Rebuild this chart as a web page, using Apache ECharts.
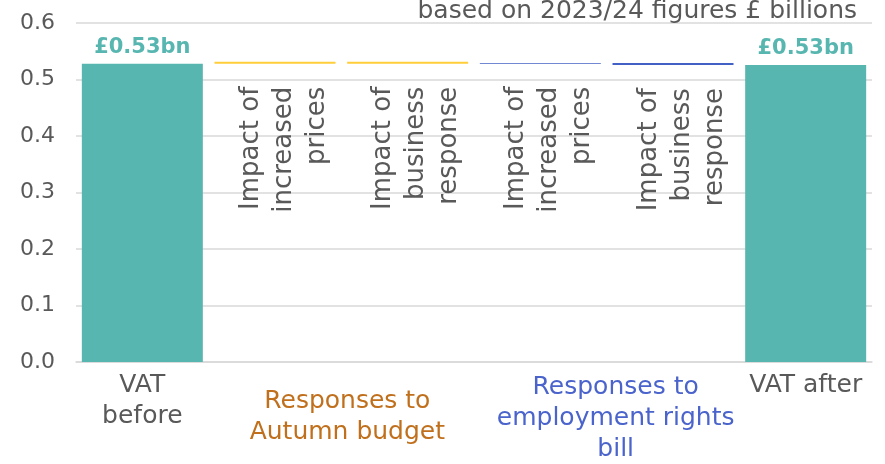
<!DOCTYPE html>
<html>
<head>
<meta charset="utf-8">
<script src="https://cdn.jsdelivr.net/npm/echarts@6/dist/echarts.min.js"></script>
<style>
  html, body { margin: 0; padding: 0; background: #ffffff; }
  #chart { width: 885px; height: 464px; }
</style>
</head>
<body>
<div id="chart"></div>
<script>
// VAT waterfall, £ billions (2023/24 basis)
const categories = ['VAT before', 'Impact of increased prices', 'Impact of business response',
                    'Impact of increased prices', 'Impact of business response', 'VAT after'];
const stepLabels = ['Impact of\nincreased\nprices', 'Impact of\nbusiness\nresponse',
                    'Impact of\nincreased\nprices', 'Impact of\nbusiness\nresponse'];
const vatBefore = 0.528;
const changes = [0.0035, -0.0035, 0.001, -0.0035];
const vatAfter = 0.5255;
const yTicks = [0, 0.1, 0.2, 0.3, 0.4, 0.5, 0.6];
const groupLabels = ['Responses to\nAutumn budget', 'Responses to\nemployment rights\nbill'];

const TEAL = '#58B6B0';
const stepColors = ['#FFCE3A', '#FFCE3A', '#4361C4', '#4361C4'];
const GREY = '#595959';
const FONT = 'DejaVu Sans';

// Build the floating (invisible) base and visible delta for each step
const baseData = [0];
const deltaData = [{ value: vatBefore, itemStyle: { color: TEAL } }];
let running = vatBefore;
changes.forEach((c, i) => {
  const next = running + c;
  baseData.push({
    value: Math.min(running, next),
    label: { show: true, formatter: stepLabels[i] }
  });
  deltaData.push({ value: Math.abs(c), itemStyle: { color: stepColors[i] } });
  running = next;
});
baseData.push(0);
deltaData.push({ value: vatAfter, itemStyle: { color: TEAL } });

const totalLabel = {
  show: true, position: 'top', distance: 6,
  fontFamily: FONT, fontWeight: 'bold', fontSize: 21, color: TEAL,
  formatter: p => '£' + p.value.toFixed(2) + 'bn'
};
deltaData[0].label = totalLabel;
deltaData[5].label = totalLabel;

const chart = echarts.init(document.getElementById('chart'), null, { renderer: 'canvas' });

const option = {
  animation: false,
  backgroundColor: '#ffffff',
  grid: { left: 76, right: 13, top: 23, bottom: 102 },
  xAxis: {
    type: 'category',
    data: categories,
    axisLine: { show: true, lineStyle: { color: '#D9D9D9', width: 1.5 } },
    axisTick: { show: false },
    axisLabel: {
      interval: 0,
      margin: 8,
      fontFamily: FONT, fontSize: 25, color: GREY, lineHeight: 31,
      formatter: (v, i) => i === 0 ? 'VAT\nbefore' : (i === 5 ? 'VAT after' : '')
    }
  },
  yAxis: {
    type: 'value',
    min: yTicks[0], max: yTicks[yTicks.length - 1], interval: 0.1,
    axisLine: { show: false },
    axisTick: { show: false },
    splitLine: { lineStyle: { color: '#D9D9D9', width: 1.5 } },
    axisLabel: {
      margin: 21, fontFamily: FONT, fontSize: 22, color: GREY,
      formatter: v => v.toFixed(1)
    }
  },
  series: [
    {
      name: 'base', type: 'bar', stack: 'wf', barWidth: 121,
      itemStyle: { color: 'rgba(0,0,0,0)' },
      label: {
        show: false, position: 'insideTop', distance: 23, rotate: 90,
        align: 'right', verticalAlign: 'middle', offset: [0, 9],
        fontFamily: FONT, fontSize: 26, lineHeight: 33, color: GREY
      },
      data: baseData
    },
    {
      name: 'value', type: 'bar', stack: 'wf', barWidth: 121,
      data: deltaData
    }
  ]
};
chart.setOption(option);

// Group captions under the step bars, centred on their pair of categories
const mid = (a, b) => (chart.convertToPixel({ xAxisIndex: 0 }, a) + chart.convertToPixel({ xAxisIndex: 0 }, b)) / 2;
chart.setOption({
  graphic: [
    {
      type: 'text', x: 857, y: 11,
      style: { text: 'based on 2023/24 figures £ billions', font: '25px "DejaVu Sans"',
               fill: GREY, align: 'right', verticalAlign: 'middle' }
    },
    {
      type: 'text', x: mid(1, 2) + 6, y: 386,
      style: { text: groupLabels[0], font: '25px "DejaVu Sans"', lineHeight: 31,
               fill: '#C0701C', align: 'center', verticalAlign: 'top' }
    },
    {
      type: 'text', x: mid(3, 4) + 9, y: 372,
      style: { text: groupLabels[1], font: '25px "DejaVu Sans"', lineHeight: 31,
               fill: '#4A64CC', align: 'center', verticalAlign: 'top' }
    }
  ]
});
</script>
</body>
</html>
